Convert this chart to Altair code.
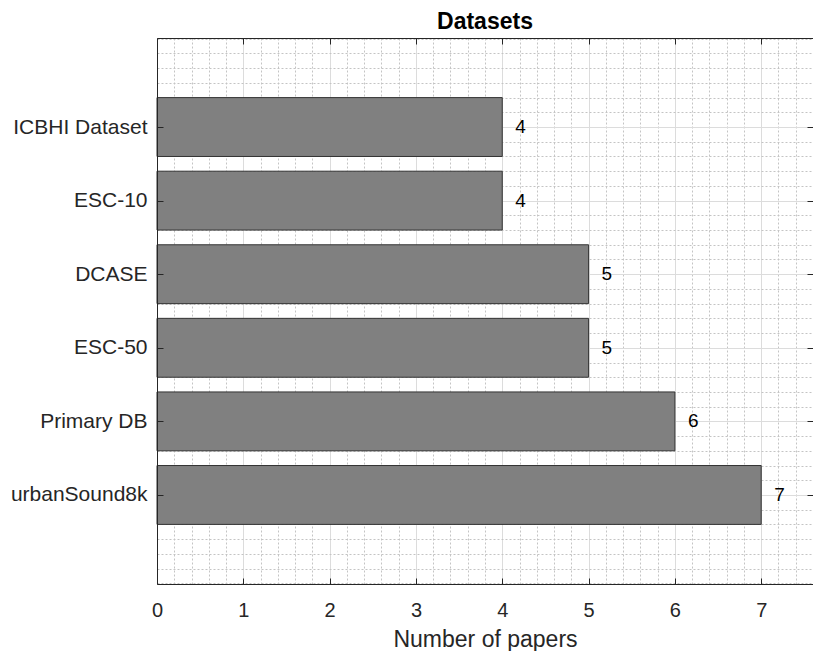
import altair as alt
import pandas as pd

# ---- data ----
categories = ["urbanSound8k", "Primary DB", "ESC-50", "DCASE", "ESC-10", "ICBHI Dataset"]
papers = [7, 6, 5, 5, 4, 4]
positions = [1, 2, 3, 4, 5, 6]

x_major = [0, 1, 2, 3, 4, 5, 6, 7]
x_minor = [0.2, 0.4, 0.6, 0.8, 1.2, 1.4, 1.6, 1.8, 2.2, 2.4, 2.6, 2.8,
           3.2, 3.4, 3.6, 3.8, 4.2, 4.4, 4.6, 4.8, 5.2, 5.4, 5.6, 5.8,
           6.2, 6.4, 6.6, 6.8, 7.2, 7.4]
y_minor = [-0.2, 0.0, 0.2, 0.4, 0.6, 0.8, 1.2, 1.4, 1.6, 1.8, 2.2, 2.4, 2.6, 2.8,
           3.2, 3.4, 3.6, 3.8, 4.2, 4.4, 4.6, 4.8, 5.2, 5.4, 5.6, 5.8,
           6.2, 6.4, 6.6, 6.8, 7.0, 7.2]

W, H = 656, 546
F = "Liberation Sans"
AX = "#262626"

df = pd.DataFrame({"dataset": categories, "papers": papers, "pos": positions})

xscale = alt.Scale(domain=[0, 7.6], nice=False, zero=False)
yscale = alt.Scale(domain=[-0.21, 7.21], nice=False, zero=False)

label_expr = "[" + ",".join("'" + c + "'" for c in categories) + "][datum.value - 1]"

minor_x = alt.Axis(values=x_minor, orient="bottom", grid=True, gridColor="#c4c4c4",
                   gridDash=[2, 2], gridWidth=1, labels=False, ticks=False,
                   domain=False, title=None)
minor_y = alt.Axis(values=y_minor, orient="left", grid=True, gridColor="#c4c4c4",
                   gridDash=[2, 2], gridWidth=1, labels=False, ticks=False,
                   domain=False, title=None)

major_x = alt.Axis(values=x_major, orient="bottom", grid=True, gridColor="#dcdcdc",
                   gridWidth=1, labels=True, labelFont=F, labelFontSize=20,
                   labelColor=AX, labelPadding=16, labelFlush=False, ticks=False,
                   domain=False, format="d", title="Number of papers", titleFont=F,
                   titleFontSize=23, titleFontWeight="normal", titleColor=AX,
                   titlePadding=8)
major_y = alt.Axis(values=positions, orient="left", grid=True, gridColor="#dcdcdc",
                   gridWidth=1, labels=True, labelFont=F, labelFontSize=21,
                   labelColor=AX, labelPadding=10, labelFlush=False,
                   labelExpr=label_expr, ticks=False, domain=False, title=None)

# inward ticks + box borders via offset axes
tick_bottom = alt.Axis(values=x_major, orient="top", offset=-H, grid=False, labels=False,
                       ticks=True, tickSize=6, tickColor=AX, tickWidth=1,
                       domain=True, domainColor=AX, domainWidth=1, title=None, zindex=1)
tick_top = alt.Axis(values=x_major, orient="bottom", offset=-H, grid=False, labels=False,
                    ticks=True, tickSize=6, tickColor=AX, tickWidth=1,
                    domain=True, domainColor=AX, domainWidth=1, title=None, zindex=1)
tick_left = alt.Axis(values=positions, orient="right", offset=-W, grid=False, labels=False,
                     ticks=True, tickSize=6, tickColor=AX, tickWidth=1,
                     domain=True, domainColor=AX, domainWidth=1, title=None, zindex=1)
tick_right = alt.Axis(values=positions, orient="left", offset=-W, grid=False, labels=False,
                      ticks=True, tickSize=6, tickColor=AX, tickWidth=1,
                      domain=True, domainColor=AX, domainWidth=1, title=None, zindex=1)

base = alt.Chart(df)

bars = base.transform_calculate(
    lo="datum.pos - 0.4", hi="datum.pos + 0.4", zero="0"
).mark_bar(color="#808080", stroke="#333333", strokeWidth=1).encode(
    x=alt.X("papers:Q", scale=xscale, axis=minor_x),
    x2=alt.X2("zero:Q"),
    y=alt.Y("lo:Q", scale=yscale, axis=minor_y),
    y2=alt.Y2("hi:Q"),
)

labels = base.mark_text(align="left", baseline="middle", dx=13, font=F,
                        fontSize=19, color="#000000").encode(
    x=alt.X("papers:Q", scale=xscale, axis=major_x),
    y=alt.Y("pos:Q", scale=yscale, axis=major_y),
    text=alt.Text("papers:Q"),
)

inv1 = base.mark_point(opacity=0).encode(
    x=alt.X("papers:Q", scale=xscale, axis=tick_bottom),
    y=alt.Y("pos:Q", scale=yscale, axis=tick_left),
)
inv2 = base.mark_point(opacity=0).encode(
    x=alt.X("papers:Q", scale=xscale, axis=tick_top),
    y=alt.Y("pos:Q", scale=yscale, axis=tick_right),
)

chart = alt.layer(bars, labels, inv1, inv2).resolve_axis(
    x="independent", y="independent"
).properties(
    width=W, height=H,
    title=alt.Title("Datasets", font=F, fontSize=23, fontWeight="bold",
                    color="#000000", anchor="middle", offset=4),
    autosize=alt.AutoSizeParams(type="none"),
    padding={"left": 149, "top": 30, "right": 0, "bottom": 67},
).configure_view(stroke=None)

chart.save("out.html", embed_options={"renderer": "svg", "actions": False})
